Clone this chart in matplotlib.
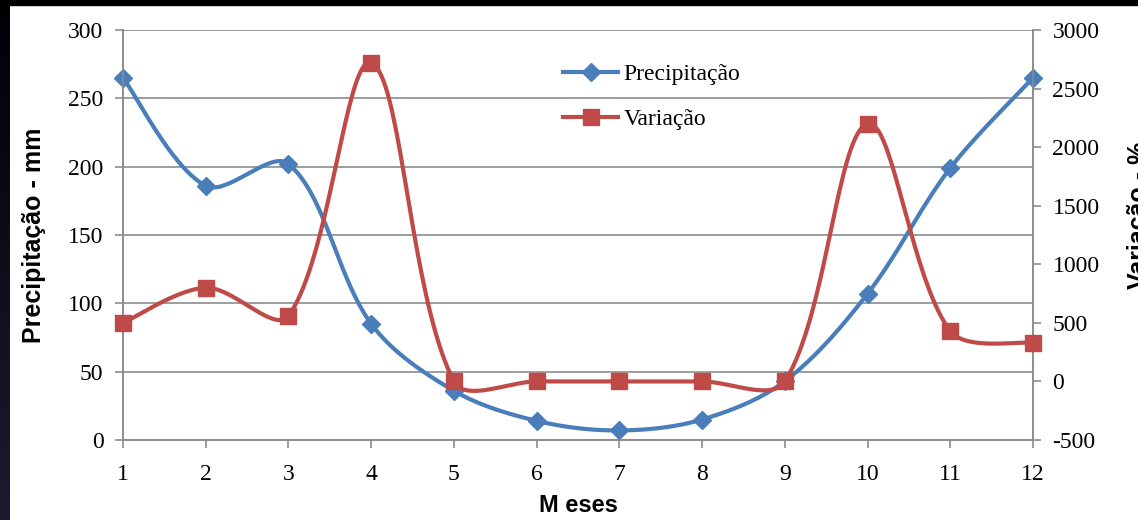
import numpy as np
import matplotlib
matplotlib.use("Agg")
import matplotlib.pyplot as plt
from matplotlib.lines import Line2D
from matplotlib import font_manager
from matplotlib.colors import LinearSegmentedColormap

plt.rcParams["axes.unicode_minus"] = False

months = [1, 2, 3, 4, 5, 6, 7, 8, 9, 10, 11, 12]
precip = [265, 186, 202, 85, 36, 14, 7, 15, 43, 107, 199, 265]
variacao = [500, 800, 560, 2720, 0, 0, 0, 0, 0, 2200, 430, 330]
left_ticks = [0, 50, 100, 150, 200, 250, 300]
right_ticks = [-500, 0, 500, 1000, 1500, 2000, 2500, 3000]

BLUE = "#4A7EBB"
RED = "#BE4B48"
GRID = "#8C8C8C"

serif = "Liberation Serif"
names = {f.name for f in font_manager.fontManager.ttflist}
sans_b = "Liberation Sans Narrow" if "Liberation Sans Narrow" in names else "Liberation Sans"

W, H = 1138, 520
fig = plt.figure(figsize=(W / 100, H / 100), dpi=100, facecolor="white")

# dark frame on top / left
fig.patches.append(plt.Rectangle((0, 1 - 5 / H), 1, 5 / H, transform=fig.transFigure,
                                 color="black", zorder=-5))
lax = fig.add_axes([0, 0, 10 / W, 1], zorder=-4)
lax.set_axis_off()
grad = np.linspace(0, 1, 256).reshape(-1, 1)
cm = LinearSegmentedColormap.from_list("g", ["#000005", "#1c1b30"])
lax.imshow(grad, aspect="auto", cmap=cm, extent=[0, 1, 0, 1], origin="upper")

x0, x1 = 123 / W, 1033 / W
y0, y1 = 1 - 440 / H, 1 - 30 / H
ax = fig.add_axes([x0, y0, x1 - x0, y1 - y0])
ax2 = ax.twinx()
ax.set_xlim(1, 12)
ax.set_ylim(0, 300)
ax2.set_ylim(-500, 3000)
ax.set_zorder(1)
ax2.set_zorder(2)
ax.patch.set_visible(False)

ax.set_yticks(left_ticks)
ax2.set_yticks(right_ticks)
ax.set_xticks(months)
ax.grid(axis="y", color=GRID, lw=1.2)
ax.set_axisbelow(True)
for a in (ax, ax2):
    for s in a.spines.values():
        s.set_color(GRID)
        s.set_linewidth(1.2)
    a.spines["top"].set_visible(False)
ax.tick_params(axis="both", colors=GRID, length=6, width=1.2, labelcolor="black",
               labelsize=17, pad=8)
ax.tick_params(axis="x", pad=11)
ax2.tick_params(axis="y", colors=GRID, length=6, width=1.2, labelcolor="black",
                labelsize=17, pad=8)
for lab in ax.get_xticklabels() + ax.get_yticklabels() + ax2.get_yticklabels():
    lab.set_fontfamily(serif)

fig.canvas.draw()


def excel_smooth(a, xs, ys, n=40):
    pts = a.transData.transform(np.column_stack([xs, ys]))
    out = [pts[0]]
    m = len(pts)
    for i in range(m - 1):
        p0 = pts[i - 1] if i > 0 else pts[i]
        p1 = pts[i]
        p2 = pts[i + 1]
        p3 = pts[i + 2] if i + 2 < m else pts[i + 1]
        d01 = np.hypot(*(p1 - p0))
        d12 = np.hypot(*(p2 - p1))
        d23 = np.hypot(*(p3 - p2))
        f1 = (1 / 3) * d12 / (d01 + d12) if d01 + d12 > 0 else 0
        f2 = (1 / 3) * d12 / (d12 + d23) if d12 + d23 > 0 else 0
        if i == 0:
            f1 = 1 / 6
        if i == m - 2:
            f2 = 1 / 6
        c1 = p1 + (p2 - p0) * f1
        c2 = p2 - (p3 - p1) * f2
        t = np.linspace(0, 1, n)[1:, None]
        b = ((1 - t) ** 3) * p1 + 3 * ((1 - t) ** 2) * t * c1 + 3 * (1 - t) * t ** 2 * c2 + t ** 3 * p2
        out.extend(b)
    out = np.array(out)
    d = a.transData.inverted().transform(out)
    return d[:, 0], d[:, 1]


sx, sy = excel_smooth(ax, months, precip)
ax.plot(sx, sy, color=BLUE, lw=3, solid_capstyle="round", clip_on=False, zorder=3)
ax.plot(months, precip, ls="none", marker="D", ms=9, color=BLUE, clip_on=False, zorder=4)

rx, ry = excel_smooth(ax2, months, variacao)
ax2.plot(rx, ry, color=RED, lw=3, solid_capstyle="round", clip_on=False, zorder=3)
ax2.plot(months, variacao, ls="none", marker="s", ms=12, color=RED, clip_on=False, zorder=4)

ax.set_ylabel("Precipitação - mm", fontfamily=sans_b, fontweight="bold", fontsize=18, labelpad=16)
ax.set_xlabel("M eses", fontfamily=sans_b, fontweight="bold", fontsize=17, labelpad=7)
fig.text(1127 / W, 1 - 215 / H, "Variação - %", rotation=90, ha="left", va="center",
         fontfamily=sans_b, fontweight="bold", fontsize=18)

handles = [Line2D([], [], color=BLUE, lw=3, marker="D", ms=9),
           Line2D([], [], color=RED, lw=3, marker="s", ms=12)]
leg = ax2.legend(handles, ["Precipitação", "Variação"], loc="upper left",
                 bbox_to_anchor=(554 / W, 1 - 54 / H), bbox_transform=fig.transFigure,
                 frameon=False, prop={"family": serif, "size": 17}, handlelength=2.3,
                 handletextpad=0.25, labelspacing=1.0, borderaxespad=0)

fig.savefig("out.png", dpi=100, facecolor="white")
